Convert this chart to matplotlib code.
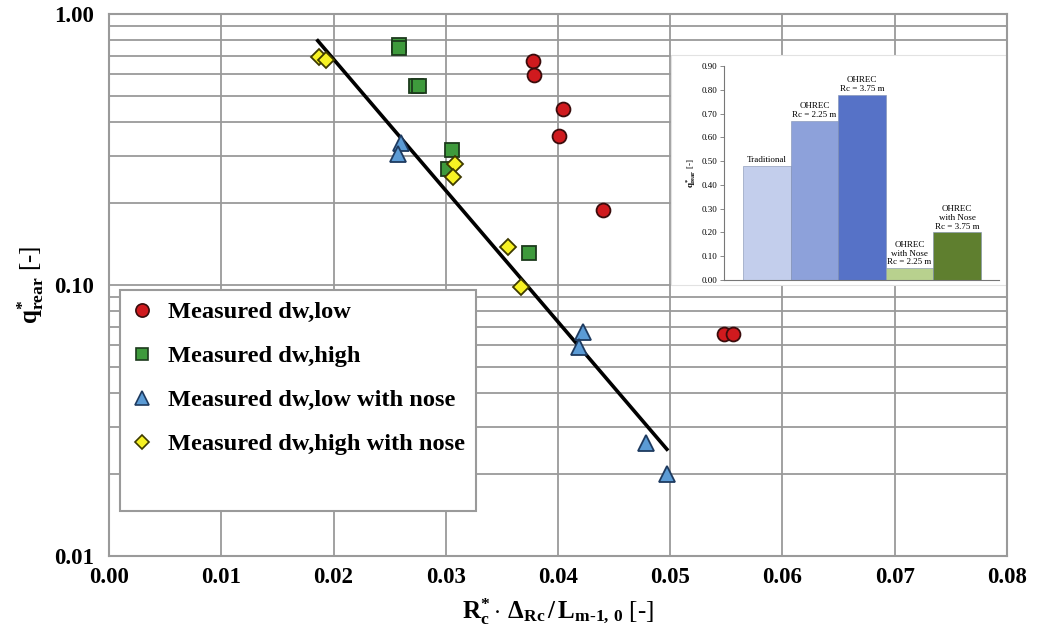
import matplotlib

matplotlib.use("Agg")

import matplotlib.pyplot as plt
import numpy as np
from matplotlib.lines import Line2D
from matplotlib.patches import Rectangle

# measured points
dw_low_x = [0.03775, 0.03786, 0.04047, 0.04006, 0.04404, 0.05481, 0.05562]
dw_low_y = [0.671, 0.596, 0.446, 0.354, 0.189, 0.066, 0.066]

dw_high_x = [0.02584, 0.02584, 0.02735, 0.02762, 0.03056, 0.0302, 0.03739]
dw_high_y = [0.768, 0.749, 0.542, 0.542, 0.315, 0.268, 0.131]

dw_low_nose_x = [0.02601, 0.02575, 0.04223, 0.04187, 0.04784, 0.04971]
dw_low_nose_y = [0.334, 0.304, 0.0671, 0.059, 0.0261, 0.0201]

dw_high_nose_x = [0.01871, 0.01933, 0.03082, 0.03065, 0.03552, 0.0367]
dw_high_nose_y = [0.694, 0.676, 0.2795, 0.2503, 0.138, 0.098]

# exponential fit q = a * exp(-b x)
fit_a = 6.35
fit_b = 111.6
fit_x_start = 0.0186
fit_x_end = 0.0497

x_ticks = [0.00, 0.01, 0.02, 0.03, 0.04, 0.05, 0.06, 0.07, 0.08]
y_ticks = [0.01, 0.1, 1.0]
y_tick_labels = ["0.01", "0.10", "1.00"]

# inset bar chart
inset_labels = [
    "Traditional",
    "OHREC\nRc = 2.25 m",
    "OHREC\nRc = 3.75 m",
    "OHREC\nwith Nose\nRc = 2.25 m",
    "OHREC\nwith Nose\nRc = 3.75 m",
]
inset_values = [0.48, 0.67, 0.78, 0.05, 0.20]
inset_colors = ["#C3CEEC", "#8DA1DA", "#5672C7", "#B8D18E", "#5F7F2F"]
inset_yticks = [0.0, 0.1, 0.2, 0.3, 0.4, 0.5, 0.6, 0.7, 0.8, 0.9]

GRID = "#9A9A9A"

plt.rcParams.update(
    {
        "font.family": "Liberation Serif",
        "font.weight": "bold",
        "mathtext.fontset": "custom",
        "mathtext.rm": "Liberation Serif",
        "mathtext.bf": "Liberation Serif:bold",
        "mathtext.it": "Liberation Serif:italic:bold",
    }
)

fig = plt.figure(figsize=(10.37, 6.35), dpi=100)
ax = fig.add_axes([109 / 1037, 1 - 556 / 635, 898 / 1037, 542 / 635])

ax.set_yscale("log")
ax.set_xlim(0, 0.08)
ax.set_ylim(0.01, 1.0)
ax.set_xticks(x_ticks)
ax.set_xticklabels([f"{v:.2f}" for v in x_ticks])
ax.set_yticks(y_ticks)
ax.set_yticklabels(y_tick_labels)
ax.yaxis.set_minor_formatter(plt.NullFormatter())
ax.tick_params(axis="both", which="both", length=0, labelsize=16.5)
ax.tick_params(axis="y", pad=11)
ax.tick_params(axis="x", pad=8)
ax.grid(True, which="both", axis="y", color=GRID, linewidth=1.3)
ax.grid(True, which="major", axis="x", color=GRID, linewidth=1.3)
ax.set_axisbelow(True)
for sp in ax.spines.values():
    sp.set_color(GRID)
    sp.set_linewidth(1.5)

# white box under the inset hides the grid there
box = Rectangle(
    (671 / 1037, 1 - 285 / 635),
    336 / 1037,
    230 / 635,
    transform=fig.transFigure,
    facecolor="white",
    edgecolor="#E2E2E2",
    linewidth=0.8,
    zorder=1,
)
ax.add_artist(box)
box.set_clip_on(False)

fit_x = np.linspace(fit_x_start, fit_x_end, 50)
ax.plot(fit_x, fit_a * np.exp(-fit_b * fit_x), color="black", linewidth=2.6, zorder=3)

ms = 10
ax.plot(dw_low_x, dw_low_y, "o", ms=ms, mfc="#D01A1E", mec="#3A0C0C", mew=1.3, zorder=4)
ax.plot(dw_high_x, dw_high_y, "s", ms=ms - 0.5, mfc="#3E9A3C", mec="#1C3A1C", mew=1.3, zorder=4)
ax.plot(dw_low_nose_x, dw_low_nose_y, "^", ms=ms + 1.5, mfc="#5B9BD5", mec="#1E3A5F", mew=1.3, zorder=4)
ax.plot(dw_high_nose_x, dw_high_nose_y, "D", ms=ms - 2, mfc="#F7F224", mec="#3E3A00", mew=1.3, zorder=4)

ax.set_xlabel(r"$\mathbf{R_c^{*}\cdot\,\Delta_{Rc}\,/\,L_{m\text{-}1,\,0}}$ [-]", fontsize=18, labelpad=6)
ax.set_ylabel(r"$\mathbf{q^{*}_{rear}}$ [-]", fontsize=18, labelpad=6)

handles = [
    Line2D([], [], ls="none", marker="o", ms=9.5, mfc="#D01A1E", mec="#3A0C0C", mew=1.2),
    Line2D([], [], ls="none", marker="s", ms=9, mfc="#3E9A3C", mec="#1C3A1C", mew=1.2),
    Line2D([], [], ls="none", marker="^", ms=10.5, mfc="#5B9BD5", mec="#1E3A5F", mew=1.2),
    Line2D([], [], ls="none", marker="D", ms=7.5, mfc="#F7F224", mec="#3E3A00", mew=1.2),
    Line2D([], [], ls="none"),
]
labels = [
    "Measured dw,low",
    "Measured dw,high",
    "Measured dw,low with nose",
    "Measured dw,high with nose",
    " ",
]
leg = ax.legend(
    handles,
    labels,
    loc="upper left",
    bbox_to_anchor=(120 / 1037, 1 - 290 / 635),
    bbox_transform=fig.transFigure,
    fontsize=17.6,
    frameon=True,
    fancybox=False,
    framealpha=1,
    edgecolor=GRID,
    borderpad=0.45,
    labelspacing=0.9,
    handlelength=0.9,
    handletextpad=0.6,
    borderaxespad=0,
)
leg.get_frame().set_linewidth(1.5)
leg.set_zorder(5)

# inset bar chart
ins = fig.add_axes([724 / 1037, 1 - 280 / 635, 275 / 1037, 214 / 635])
ins.set_zorder(6)
ins.patch.set_alpha(0)
pos = np.arange(len(inset_values))
ins.bar(pos, inset_values, width=1.0, color=inset_colors, edgecolor="#7F8FB0", linewidth=0.4)
ins.set_xlim(-0.9, 4.88)
ins.set_ylim(0, 0.9)
ins.set_xticks([])
ins.set_yticks(inset_yticks)
ins.set_yticklabels([f"{v:.2f}" for v in inset_yticks])
ins.tick_params(axis="y", labelsize=6.5, length=3, width=0.6, color="#777777", pad=2)
for lab in ins.get_yticklabels():
    lab.set_fontweight("normal")
ins.spines["top"].set_visible(False)
ins.spines["right"].set_visible(False)
ins.spines["left"].set_color("#777777")
ins.spines["bottom"].set_color("#777777")
ins.spines["left"].set_linewidth(0.8)
ins.spines["bottom"].set_linewidth(0.8)
ins.set_ylabel(r"$\mathbf{q^{*}_{rear}}$ [-]", fontsize=6.5, labelpad=3)
for p, v, t in zip(pos, inset_values, inset_labels):
    ins.text(p, v + 0.008, t, ha="center", va="bottom", fontsize=6.5,
             fontweight="normal", linespacing=1.1)

fig.savefig("out.png", dpi=100, facecolor="white")
